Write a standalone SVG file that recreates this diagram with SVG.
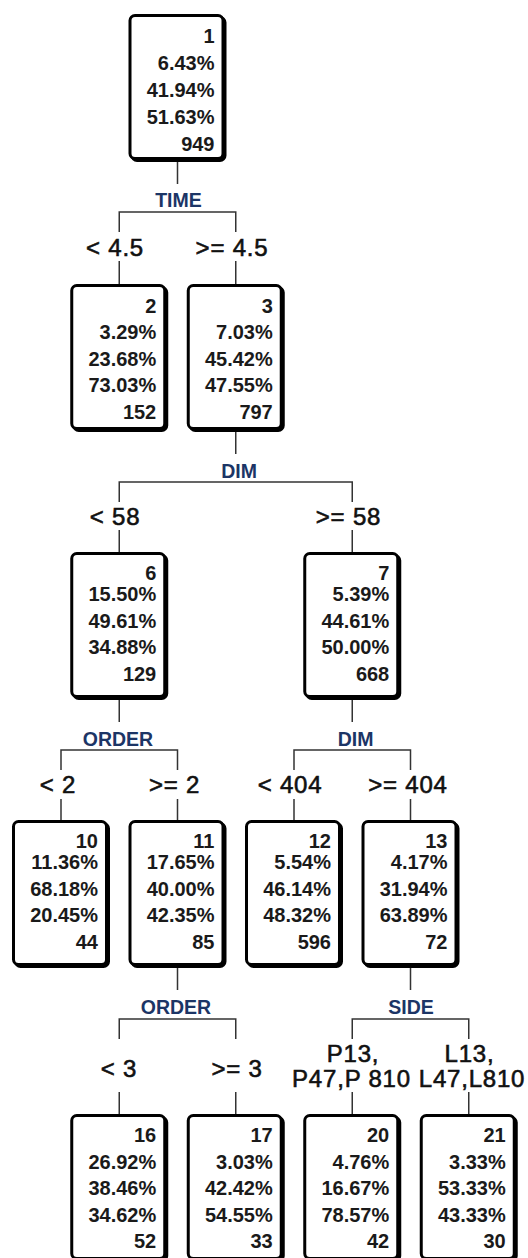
<svg xmlns="http://www.w3.org/2000/svg" width="528" height="1258" viewBox="0 0 528 1258">
<style>
.bg{fill:#ffffff}
.sh{fill:#000;stroke:#000;stroke-width:3}
.bx{fill:#fff;stroke:#000;stroke-width:3}
.nt{font-family:"Liberation Sans",Arial,sans-serif;font-weight:bold;font-size:20px;fill:#1a1a1a;text-anchor:end}
.ln{fill:none;stroke:#333;stroke-width:1.5}
.sp{font-family:"Liberation Sans",Arial,sans-serif;font-weight:bold;font-size:19.5px;fill:#1c3566;text-anchor:middle}
.br{font-family:"Liberation Sans",Arial,sans-serif;font-size:24px;letter-spacing:0.8px;fill:#111;stroke:#111;stroke-width:0.6px;text-anchor:middle}
</style>
<rect class="bg" x="0" y="0" width="528" height="1258"/>
<g id="connectors">
  <path class="ln" d="M177.5,160V184M119.25,232V212H235.75V232M119.25,261V284M235.75,261V284"/>
  <text class="sp" x="178.5" y="207">TIME</text>
  <text class="br" x="115" y="256">&lt; 4.5</text>
  <text class="br" x="232" y="256">&gt;= 4.5</text>
  <path class="ln" d="M235.75,430V454M119.25,502V482H352.25V502M119.25,530V552M352.25,530V552"/>
  <text class="sp" x="239" y="478">DIM</text>
  <text class="br" x="115" y="525">&lt; 58</text>
  <text class="br" x="348.5" y="525">&gt;= 58</text>
  <path class="ln" d="M119.25,698V722M61,770V750H177.5V770M61,799V820M177.5,799V820"/>
  <text class="sp" x="118" y="746">ORDER</text>
  <text class="br" x="58" y="793">&lt; 2</text>
  <text class="br" x="174.5" y="793">&gt;= 2</text>
  <path class="ln" d="M352.25,698V722M294,770V750H410.5V770M294,799V820M410.5,799V820"/>
  <text class="sp" x="355.5" y="746">DIM</text>
  <text class="br" x="290" y="793">&lt; 404</text>
  <text class="br" x="408" y="793">&gt;= 404</text>
  <path class="ln" d="M177.5,966V990M119.25,1039V1019H235.75V1039M119.25,1092V1114M235.75,1092V1114"/>
  <text class="sp" x="176" y="1014">ORDER</text>
  <text class="br" x="119" y="1077">&lt; 3</text>
  <text class="br" x="237" y="1077">&gt;= 3</text>
  <path class="ln" d="M410.5,966V990M352.25,1039V1019H468.75V1039M352.25,1092V1114M468.75,1092V1114"/>
  <text class="sp" x="411" y="1014">SIDE</text>
  <text class="br" x="353" y="1062">P13,</text>
  <text class="br" x="351.5" y="1087">P47,P 810</text>
  <text class="br" x="469.5" y="1062">L13,</text>
  <text class="br" x="472" y="1087">L47,L810</text>
</g>
<g id="node1">
  <rect class="sh" x="132" y="17.5" width="93" height="143" rx="5"/>
  <rect class="bx" x="130" y="15.5" width="93" height="143" rx="5"/>
  <text class="nt"><tspan x="214.5" y="43">1</tspan><tspan x="214.5" y="70">6.43%</tspan><tspan x="214.5" y="97">41.94%</tspan><tspan x="214.5" y="124">51.63%</tspan><tspan x="214.5" y="151">949</tspan></text>
</g>
<g id="node2">
  <rect class="sh" x="73.75" y="287.5" width="93" height="143" rx="5"/>
  <rect class="bx" x="71.75" y="285.5" width="93" height="143" rx="5"/>
  <text class="nt"><tspan x="156.25" y="312.5">2</tspan><tspan x="156.25" y="339">3.29%</tspan><tspan x="156.25" y="365.5">23.68%</tspan><tspan x="156.25" y="392">73.03%</tspan><tspan x="156.25" y="418.5">152</tspan></text>
</g>
<g id="node3">
  <rect class="sh" x="190.25" y="287.5" width="93" height="143" rx="5"/>
  <rect class="bx" x="188.25" y="285.5" width="93" height="143" rx="5"/>
  <text class="nt"><tspan x="272.75" y="312.5">3</tspan><tspan x="272.75" y="339">7.03%</tspan><tspan x="272.75" y="365.5">45.42%</tspan><tspan x="272.75" y="392">47.55%</tspan><tspan x="272.75" y="418.5">797</tspan></text>
</g>
<g id="node6">
  <rect class="sh" x="73.75" y="555.5" width="93" height="143" rx="5"/>
  <rect class="bx" x="71.75" y="553.5" width="93" height="143" rx="5"/>
  <text class="nt"><tspan x="156.25" y="580">6</tspan><tspan x="156.25" y="601">15.50%</tspan><tspan x="156.25" y="627.5">49.61%</tspan><tspan x="156.25" y="654">34.88%</tspan><tspan x="156.25" y="680.5">129</tspan></text>
</g>
<g id="node7">
  <rect class="sh" x="306.75" y="555.5" width="93" height="143" rx="5"/>
  <rect class="bx" x="304.75" y="553.5" width="93" height="143" rx="5"/>
  <text class="nt"><tspan x="389.25" y="580">7</tspan><tspan x="389.25" y="601">5.39%</tspan><tspan x="389.25" y="627.5">44.61%</tspan><tspan x="389.25" y="654">50.00%</tspan><tspan x="389.25" y="680.5">668</tspan></text>
</g>
<g id="node10">
  <rect class="sh" x="15.5" y="823.5" width="93" height="143" rx="5"/>
  <rect class="bx" x="13.5" y="821.5" width="93" height="143" rx="5"/>
  <text class="nt"><tspan x="98" y="848">10</tspan><tspan x="98" y="869">11.36%</tspan><tspan x="98" y="895.5">68.18%</tspan><tspan x="98" y="922">20.45%</tspan><tspan x="98" y="948.5">44</tspan></text>
</g>
<g id="node11">
  <rect class="sh" x="132" y="823.5" width="93" height="143" rx="5"/>
  <rect class="bx" x="130" y="821.5" width="93" height="143" rx="5"/>
  <text class="nt"><tspan x="214.5" y="848">11</tspan><tspan x="214.5" y="869">17.65%</tspan><tspan x="214.5" y="895.5">40.00%</tspan><tspan x="214.5" y="922">42.35%</tspan><tspan x="214.5" y="948.5">85</tspan></text>
</g>
<g id="node12">
  <rect class="sh" x="248.5" y="823.5" width="93" height="143" rx="5"/>
  <rect class="bx" x="246.5" y="821.5" width="93" height="143" rx="5"/>
  <text class="nt"><tspan x="331" y="848">12</tspan><tspan x="331" y="869">5.54%</tspan><tspan x="331" y="895.5">46.14%</tspan><tspan x="331" y="922">48.32%</tspan><tspan x="331" y="948.5">596</tspan></text>
</g>
<g id="node13">
  <rect class="sh" x="365" y="823.5" width="93" height="143" rx="5"/>
  <rect class="bx" x="363" y="821.5" width="93" height="143" rx="5"/>
  <text class="nt"><tspan x="447.5" y="848">13</tspan><tspan x="447.5" y="869">4.17%</tspan><tspan x="447.5" y="895.5">31.94%</tspan><tspan x="447.5" y="922">63.89%</tspan><tspan x="447.5" y="948.5">72</tspan></text>
</g>
<g id="node16">
  <rect class="sh" x="73.75" y="1117.5" width="93" height="143" rx="5"/>
  <rect class="bx" x="71.75" y="1115.5" width="93" height="143" rx="5"/>
  <text class="nt"><tspan x="156.25" y="1142">16</tspan><tspan x="156.25" y="1168.5">26.92%</tspan><tspan x="156.25" y="1195">38.46%</tspan><tspan x="156.25" y="1221.5">34.62%</tspan><tspan x="156.25" y="1248">52</tspan></text>
</g>
<g id="node17">
  <rect class="sh" x="190.25" y="1117.5" width="93" height="143" rx="5"/>
  <rect class="bx" x="188.25" y="1115.5" width="93" height="143" rx="5"/>
  <text class="nt"><tspan x="272.75" y="1142">17</tspan><tspan x="272.75" y="1168.5">3.03%</tspan><tspan x="272.75" y="1195">42.42%</tspan><tspan x="272.75" y="1221.5">54.55%</tspan><tspan x="272.75" y="1248">33</tspan></text>
</g>
<g id="node20">
  <rect class="sh" x="306.75" y="1117.5" width="93" height="143" rx="5"/>
  <rect class="bx" x="304.75" y="1115.5" width="93" height="143" rx="5"/>
  <text class="nt"><tspan x="389.25" y="1142">20</tspan><tspan x="389.25" y="1168.5">4.76%</tspan><tspan x="389.25" y="1195">16.67%</tspan><tspan x="389.25" y="1221.5">78.57%</tspan><tspan x="389.25" y="1248">42</tspan></text>
</g>
<g id="node21">
  <rect class="sh" x="423.25" y="1117.5" width="93" height="143" rx="5"/>
  <rect class="bx" x="421.25" y="1115.5" width="93" height="143" rx="5"/>
  <text class="nt"><tspan x="505.75" y="1142">21</tspan><tspan x="505.75" y="1168.5">3.33%</tspan><tspan x="505.75" y="1195">53.33%</tspan><tspan x="505.75" y="1221.5">43.33%</tspan><tspan x="505.75" y="1248">30</tspan></text>
</g>
</svg>
